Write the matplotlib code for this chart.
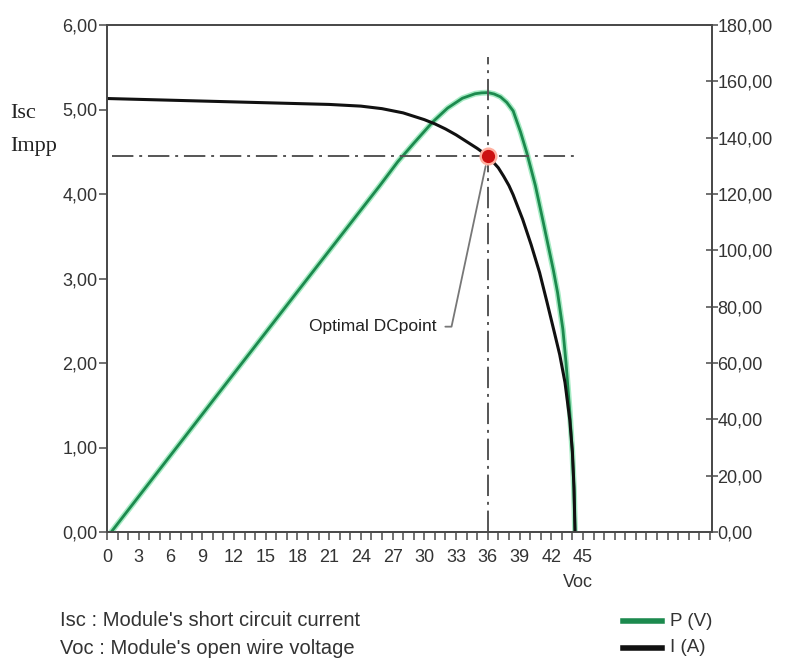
import matplotlib
matplotlib.use("Agg")
import matplotlib.pyplot as plt
from matplotlib.ticker import FixedLocator, MultipleLocator

# I-V curve of the module (left axis, A)
v_i = [0, 3, 6, 9, 12, 15, 18, 21, 24, 26, 28, 29, 30, 31, 32, 33, 34, 35, 36,
       37, 37.5, 38, 38.4, 39.3, 40.1, 40.9, 41.6, 42.3, 42.8, 43.3, 43.75,
       44.0, 44.15, 44.25]
i_a = [5.13, 5.12, 5.11, 5.10, 5.09, 5.08, 5.07, 5.06, 5.04, 5.01, 4.96, 4.92,
       4.88, 4.83, 4.77, 4.70, 4.62, 4.54, 4.45, 4.31, 4.21, 4.10, 3.99, 3.70,
       3.40, 3.07, 2.72, 2.36, 2.10, 1.77, 1.33, 0.95, 0.53, 0.0]

# P-V curve (right axis, W)
v_p = [0.4, 10, 20, 25.8, 27.5, 29, 30.8, 32.2, 33.6, 34.8, 35.4, 36, 36.6,
       37.2, 37.8, 38.4, 39.1, 39.7, 40.5, 41.2, 42.2, 42.6, 43.1, 43.4, 43.75,
       44.0, 44.15, 44.25]
p_w = [0, 46.6, 95, 123, 131.5, 138, 145.6, 150.5, 154.0, 155.6, 155.9, 156,
       155.5, 154.5, 152.5, 149.5, 142, 134.5, 123, 110.8, 93, 85, 72, 60, 43,
       28, 15, 0]

# maximum power point
v_mpp = 36
i_mpp = 4.45

x_ticks = list(range(0, 46, 3))
y_left = [0, 1, 2, 3, 4, 5, 6]
y_left_labels = ["0,00", "1,00", "2,00", "3,00", "4,00", "5,00", "6,00"]
y_right = [0, 20, 40, 60, 80, 100, 120, 140, 160, 180]
y_right_labels = ["0,00", "20,00", "40,00", "60,00", "80,00", "100,00",
                  "120,00", "140,00", "160,00", "180,00"]

sans = ["Liberation Sans", "DejaVu Sans"]
serif = ["Liberation Serif", "DejaVu Serif"]
plt.rcParams["font.family"] = sans

green = "#1c8a4e"
axcol = "#4a4a4a"
txtcol = "#333333"

fig = plt.figure(figsize=(7.89, 6.72), dpi=100)
ax = fig.add_axes([107 / 789, 1 - 532 / 672, (712 - 107) / 789, (532 - 25) / 672])
ax2 = ax.twinx()
ax.set_zorder(ax2.get_zorder() + 1)
ax.patch.set_visible(False)

# power curve with a light halo
ax2.plot(v_p, p_w, color="#a6ebc4", lw=4.2, solid_capstyle="round",
         solid_joinstyle="round")
ax2.plot(v_p, p_w, color=green, lw=2.0, solid_joinstyle="round")
ax.plot(v_i, i_a, color="#111111", lw=2.2, solid_joinstyle="round")

# guide lines through the optimal point
ax.plot([0.5, 44.5], [i_mpp, i_mpp], color="#555555", lw=1.4,
        dashes=(11, 3, 1.5, 3))
ax.plot([v_mpp, v_mpp], [0, 5.62], color="#555555", lw=1.4,
        dashes=(11, 3, 1.5, 3))
ax.plot([v_mpp], [i_mpp], "o", color="#ffb0a0", ms=12, zorder=5)
ax.plot([v_mpp], [i_mpp], "o", color="#cc1111", ms=8.5, zorder=6)

ax.annotate("Optimal DCpoint", xy=(v_mpp - 0.2, i_mpp - 0.12),
            xytext=(31.2, 2.43), ha="right", va="center", fontsize=12.5,
            color="#222222",
            arrowprops=dict(arrowstyle="-", color="#777777", lw=1.3,
                            connectionstyle="angle,angleA=0,angleB=78,rad=0",
                            shrinkA=4, shrinkB=0))

ax.set_xlim(0, 57.2)
ax.set_ylim(0, 6)
ax2.set_ylim(0, 180)

ax.xaxis.set_major_locator(FixedLocator(x_ticks))
ax.xaxis.set_minor_locator(MultipleLocator(1))
ax.set_xticklabels([str(t) for t in x_ticks])
ax.set_yticks(y_left, y_left_labels)
ax2.set_yticks(y_right, y_right_labels)

for a in (ax, ax2):
    for s in a.spines.values():
        s.set_color(axcol)
        s.set_linewidth(1.3)
ax.tick_params(axis="x", which="both", direction="out", length=6, width=1.1,
               color=axcol, labelsize=13, pad=6, labelcolor=txtcol)
ax.tick_params(axis="y", direction="out", length=6, width=1.1, color=axcol,
               labelsize=13, pad=1, labelcolor=txtcol)
ax2.tick_params(axis="y", direction="inout", length=8, width=1.1,
                color=axcol, labelsize=13, pad=0, labelcolor=txtcol)

ax.text(44.5, -0.6, "Voc", ha="center", va="center", fontsize=13, color=txtcol)

fig.text(10 / 789, 1 - 114 / 672, "Isc", family=serif, fontsize=16,
         va="center", color="#222222")
fig.text(10 / 789, 1 - 146 / 672, "Impp", family=serif, fontsize=16,
         va="center", color="#222222")

fig.text(60 / 789, 1 - 621 / 672, "Isc : Module's short circuit current",
         fontsize=14.5, va="center", color=txtcol)
fig.text(60 / 789, 1 - 648 / 672, "Voc : Module's open wire voltage",
         fontsize=14.5, va="center", color=txtcol)

# legend drawn by hand at the lower right
fig.add_artist(plt.Line2D([623 / 789, 662 / 789], [1 - 621 / 672] * 2,
                          color=green, lw=4))
fig.add_artist(plt.Line2D([623 / 789, 662 / 789], [1 - 648 / 672] * 2,
                          color="#111111", lw=4))
fig.text(670 / 789, 1 - 621 / 672, "P (V)", fontsize=13.5, va="center",
         color=txtcol)
fig.text(670 / 789, 1 - 648 / 672, "I (A)", fontsize=13.5, va="center",
         color=txtcol)

fig.savefig("out.png", dpi=100)
